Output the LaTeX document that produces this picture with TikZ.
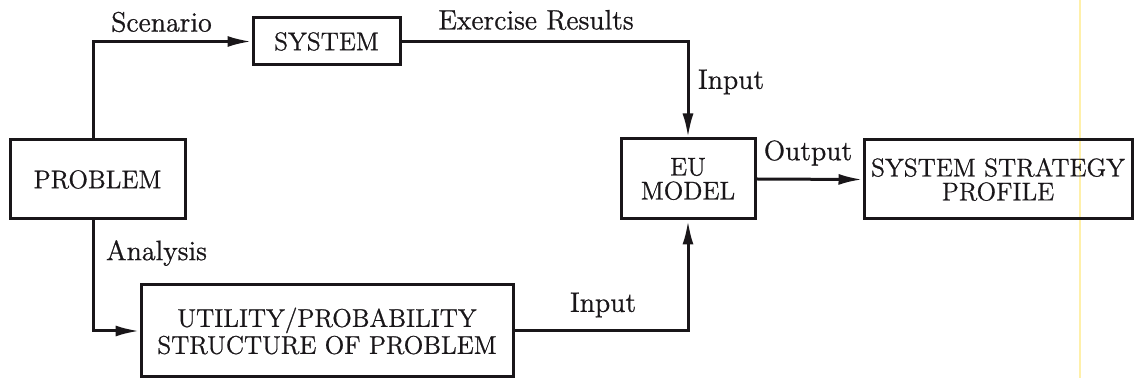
\documentclass[tikz,border=0pt]{standalone}
\usepackage{fontspec}
\setmainfont{Latin Modern Roman}[FakeBold=0.8]
\usetikzlibrary{arrows.meta,calc}
\definecolor{ink}{RGB}{25,22,25}
\definecolor{scanyellow}{RGB}{255,240,170}
\begin{document}
\begin{tikzpicture}[x=0.5pt,y=-0.5pt,
  box/.style={draw=ink,line width=1.5pt,rectangle,inner sep=0pt,align=center,text=ink,
    font=\fontsize{12.8}{12}\selectfont},
  lbl/.style={text=ink,inner sep=0pt,font=\fontsize{14}{16}\selectfont},
  conn/.style={draw=ink,line width=1.5pt,-{Latex[length=12pt,width=5.5pt]}},
  plain/.style={draw=ink,line width=1.5pt}]
\useasboundingbox (0,0) rectangle (1134,378);
\fill[scanyellow] (1079,0) rectangle (1081,378);
% boxes
\node[box,minimum width=147*0.5pt,minimum height=47*0.5pt] (system) at (326.5,41.5) {SYSTEM};
\node[box,minimum width=175*0.5pt,minimum height=79*0.5pt] (problem) at (97.5,179.5) {PROBLEM};
\node[box,minimum width=372*0.5pt,minimum height=92*0.5pt,font=\fontsize{12.8}{13.5}\selectfont] (util) at (327,331) {UTILITY/PROBABILITY\\STRUCTURE OF PROBLEM};
\node[box,minimum width=134*0.5pt,minimum height=80*0.5pt] (eu) at (688,179) {EU\\MODEL};
\node[box,minimum width=268*0.5pt,minimum height=79*0.5pt] (ssp) at (998,179.5) {SYSTEM STRATEGY\\PROFILE};
% helper coordinates
\coordinate (vl) at (93,0);
% connectors
\draw[conn] (problem.north -| vl) |- (system.west);
\draw[conn] (problem.south -| vl) |- (util.west);
\draw[conn] (system.east) -| (eu.north);
\draw[conn] (util.east) -| (eu.south);
\draw[conn] (eu.east) -- (ssp.west);
% labels
\node[lbl] (lscen) at (161.5,22) {Scenario};
\node[lbl] (lexer) at (536,20) {Exercise Results};
\node[lbl] (lin1) at (731,82) {Input};
\node[lbl] (lout) at (808,153) {Output};
\node[lbl] (lana) at (156.5,253) {Analysis};
\node[lbl] (lin2) at (603,305) {Input};
\end{tikzpicture}
\end{document}
